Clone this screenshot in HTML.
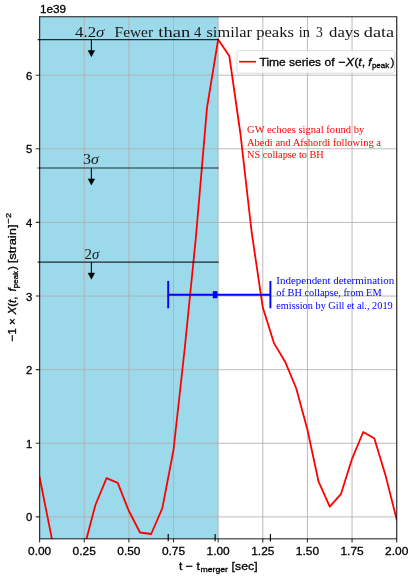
<!DOCTYPE html>
<html lang="en"><head><meta charset="utf-8"><title>GW echoes time series</title>
<style>
html,body{margin:0;padding:0;background:#fff;}
body{width:415px;height:579px;overflow:hidden;}
svg{display:block;will-change:transform;}
text{font-family:"Liberation Sans",sans-serif;font-size:11.7px;fill:#000;stroke:#000;stroke-width:0.3px;}
.sub{font-size:8px;}
.sig{font-family:"Liberation Serif",serif;font-size:14.6px;stroke:none;fill:#161616;}
.ann{font-family:"Liberation Serif",serif;font-size:11.2px;}
.red{fill:#ff0000;stroke:none;}.blue{fill:#0000ff;stroke:none;}
.serif{font-family:"Liberation Serif",serif;}
.it{font-style:italic;}
</style></head><body>
<svg role="img" aria-label="Time series of -X(t, f_peak) versus t - t_merger with sigma thresholds" width="415" height="579" viewBox="0 0 415 579">
<rect x="0" y="0" width="415" height="579" fill="#ffffff"/>
<defs><clipPath id="axclip"><rect x="39.6" y="16.7" width="357.10" height="522.10"/></clipPath></defs>
<rect x="39.6" y="16.7" width="178.55" height="522.10" fill="#9bd9eb"/>
<path d="M39.60,16.7V538.8M84.24,16.7V538.8M128.88,16.7V538.8M173.51,16.7V538.8M218.15,16.7V538.8M262.79,16.7V538.8M307.43,16.7V538.8M352.06,16.7V538.8M396.70,16.7V538.8M39.6,516.90H396.7M39.6,443.28H396.7M39.6,369.66H396.7M39.6,296.04H396.7M39.6,222.42H396.7M39.6,148.80H396.7M39.6,75.18H396.7" stroke="#b0b0b0" stroke-width="0.87" fill="none"/>
<path d="M91.38,39.6V50.80" stroke="#000" stroke-width="1.1" fill="none"/>
<path d="M88.13,50.60H94.63L91.38,56.70Z" fill="#000" stroke="#000" stroke-width="0.5" stroke-linejoin="miter"/>
<path d="M91.38,167.9V179.10" stroke="#000" stroke-width="1.1" fill="none"/>
<path d="M88.13,178.90H94.63L91.38,185.00Z" fill="#000" stroke="#000" stroke-width="0.5" stroke-linejoin="miter"/>
<path d="M91.38,262.1V273.30" stroke="#000" stroke-width="1.1" fill="none"/>
<path d="M88.13,273.10H94.63L91.38,279.20Z" fill="#000" stroke="#000" stroke-width="0.5" stroke-linejoin="miter"/>
<polyline points="39.60,477.30 50.76,533.10 61.92,589.00 73.08,600.00 84.24,547.40 95.40,505.00 106.56,478.10 117.72,482.90 128.88,511.00 140.03,532.50 151.19,534.00 162.35,508.20 173.51,450.00 184.67,349.00 195.83,238.00 206.99,107.90 218.15,39.50 229.31,56.00 240.47,134.00 251.63,232.00 262.79,307.60 273.95,343.10 285.11,361.70 296.27,388.50 307.43,429.80 318.58,481.70 329.74,506.60 340.90,494.20 352.06,458.80 363.22,432.00 374.38,438.60 385.54,475.40 396.70,519.60" fill="none" stroke="#ff0000" stroke-width="1.8" stroke-linejoin="round" stroke-linecap="square" clip-path="url(#axclip)"/>
<line x1="37.6" y1="39.6" x2="218.8" y2="39.6" stroke="#000" stroke-opacity="0.8" stroke-width="1.05"/>
<line x1="37.6" y1="167.9" x2="218.8" y2="167.9" stroke="#000" stroke-opacity="0.8" stroke-width="1.05"/>
<line x1="37.6" y1="262.1" x2="218.8" y2="262.1" stroke="#000" stroke-opacity="0.8" stroke-width="1.05"/>
<path d="M168.20,294.75H270.40" stroke="#0000ff" stroke-width="2.2" fill="none"/>
<path d="M168.20,281.05V308.35M270.40,281.05V308.35" stroke="#0000ff" stroke-width="1.9" fill="none"/>
<rect x="212.80" y="291.15" width="4.6" height="7.1" fill="#0000ff"/>
<line x1="168.21" y1="534" x2="168.21" y2="541.3" stroke="#000" stroke-width="1.15"/><line x1="215.11" y1="534" x2="215.11" y2="541.3" stroke="#000" stroke-width="1.15"/><line x1="270.43" y1="534" x2="270.43" y2="541.3" stroke="#000" stroke-width="1.15"/>
<rect x="39.6" y="16.7" width="357.10" height="522.10" fill="none" stroke="#000" stroke-opacity="0.72" stroke-width="1.25"/>
<path d="M39.60,538.8v3.8M84.24,538.8v3.8M128.88,538.8v3.8M173.51,538.8v3.8M218.15,538.8v3.8M262.79,538.8v3.8M307.43,538.8v3.8M352.06,538.8v3.8M396.70,538.8v3.8M39.6,516.90h-3.8M39.6,443.28h-3.8M39.6,369.66h-3.8M39.6,296.04h-3.8M39.6,222.42h-3.8M39.6,148.80h-3.8M39.6,75.18h-3.8" stroke="#000" stroke-opacity="0.8" stroke-width="1.1" fill="none"/>
<text x="39.60" y="554.5" text-anchor="middle" textLength="23.2" lengthAdjust="spacingAndGlyphs">0.00</text>
<text x="84.24" y="554.5" text-anchor="middle" textLength="23.2" lengthAdjust="spacingAndGlyphs">0.25</text>
<text x="128.88" y="554.5" text-anchor="middle" textLength="23.2" lengthAdjust="spacingAndGlyphs">0.50</text>
<text x="173.51" y="554.5" text-anchor="middle" textLength="23.2" lengthAdjust="spacingAndGlyphs">0.75</text>
<text x="218.15" y="554.5" text-anchor="middle" textLength="23.2" lengthAdjust="spacingAndGlyphs">1.00</text>
<text x="262.79" y="554.5" text-anchor="middle" textLength="23.2" lengthAdjust="spacingAndGlyphs">1.25</text>
<text x="307.43" y="554.5" text-anchor="middle" textLength="23.2" lengthAdjust="spacingAndGlyphs">1.50</text>
<text x="352.06" y="554.5" text-anchor="middle" textLength="23.2" lengthAdjust="spacingAndGlyphs">1.75</text>
<text x="396.70" y="554.5" text-anchor="middle" textLength="23.2" lengthAdjust="spacingAndGlyphs">2.00</text>
<text x="32.3" y="521.40" text-anchor="end" textLength="6.3" lengthAdjust="spacingAndGlyphs">0</text>
<text x="32.3" y="447.78" text-anchor="end" textLength="6.3" lengthAdjust="spacingAndGlyphs">1</text>
<text x="32.3" y="374.16" text-anchor="end" textLength="6.3" lengthAdjust="spacingAndGlyphs">2</text>
<text x="32.3" y="300.54" text-anchor="end" textLength="6.3" lengthAdjust="spacingAndGlyphs">3</text>
<text x="32.3" y="226.92" text-anchor="end" textLength="6.3" lengthAdjust="spacingAndGlyphs">4</text>
<text x="32.3" y="153.30" text-anchor="end" textLength="6.3" lengthAdjust="spacingAndGlyphs">5</text>
<text x="32.3" y="79.68" text-anchor="end" textLength="6.3" lengthAdjust="spacingAndGlyphs">6</text>
<text x="39.9" y="13.0" textLength="26.2" lengthAdjust="spacingAndGlyphs">1e39</text>
<text y="569.6"><tspan x="179.0" textLength="20.8" lengthAdjust="spacingAndGlyphs">t − t</tspan><tspan class="sub" x="200.4" dy="1.9" textLength="27.6" lengthAdjust="spacingAndGlyphs">merger</tspan><tspan x="231.6" dy="-1.9" textLength="26" lengthAdjust="spacingAndGlyphs">[sec]</tspan></text>
<text transform="translate(15.8,0) rotate(-90)" y="0"><tspan x="-341.6" textLength="23.6" lengthAdjust="spacingAndGlyphs">−1 ×</tspan><tspan x="-314.6" textLength="18.2" lengthAdjust="spacingAndGlyphs"><tspan class="it">X</tspan>(<tspan class="it">t</tspan>,</tspan><tspan class="it" x="-291.5">f</tspan><tspan class="sub" x="-288.2" dy="1.9" textLength="17.2" lengthAdjust="spacingAndGlyphs">peak</tspan><tspan x="-270.0" dy="-1.9">)</tspan><tspan x="-263.3" textLength="38.8" lengthAdjust="spacingAndGlyphs">[strain]</tspan><tspan class="sub" x="-223.4" dy="-4.4" textLength="10.4" lengthAdjust="spacingAndGlyphs">−2</tspan></text>
<text class="sig" y="36.9"><tspan x="75.0" textLength="29.4" lengthAdjust="spacingAndGlyphs">4.2<tspan class="it">σ</tspan></tspan> <tspan x="114.6" textLength="38.5" lengthAdjust="spacingAndGlyphs">Fewer</tspan> <tspan x="158.3" textLength="31.9" lengthAdjust="spacingAndGlyphs">than</tspan> <tspan x="194.1" textLength="7.3" lengthAdjust="spacingAndGlyphs">4</tspan> <tspan x="206.5" textLength="45.5" lengthAdjust="spacingAndGlyphs">similar</tspan> <tspan x="256.2" textLength="37.8" lengthAdjust="spacingAndGlyphs">peaks</tspan> <tspan x="298.8" textLength="11.2" lengthAdjust="spacingAndGlyphs">in</tspan> <tspan x="316.1" textLength="6.8" lengthAdjust="spacingAndGlyphs">3</tspan> <tspan x="329.1" textLength="30.6" lengthAdjust="spacingAndGlyphs">days</tspan> <tspan x="363.8" textLength="30.4" lengthAdjust="spacingAndGlyphs">data</tspan></text>
<text class="sig" x="83.1" y="164.2" textLength="15.9" lengthAdjust="spacingAndGlyphs">3<tspan class="it">σ</tspan></text>
<text class="sig" x="84.6" y="258.5" textLength="14.7" lengthAdjust="spacingAndGlyphs">2<tspan class="it">σ</tspan></text>
<rect x="236.9" y="50.6" width="157.8" height="22.6" rx="2.2" ry="2.2" fill="#fff" fill-opacity="0.8" stroke="#ccc" stroke-opacity="0.8" stroke-width="0.87"/>
<line x1="239.9" y1="61.7" x2="255.2" y2="61.7" stroke="#f00" stroke-width="1.63" stroke-linecap="square"/>
<text y="65.9"><tspan x="259.5" textLength="75" lengthAdjust="spacingAndGlyphs">Time series of</tspan><tspan x="338.6" textLength="26.6" lengthAdjust="spacingAndGlyphs">−<tspan class="it">X</tspan>(<tspan class="it">t</tspan>,</tspan><tspan class="it" x="368.2">f</tspan><tspan class="sub" x="371.9" dy="1.9" textLength="17.4" lengthAdjust="spacingAndGlyphs">peak</tspan><tspan x="390.4" dy="-1.9">)</tspan></text>
<text class="ann red" x="247" y="133.1" textLength="117.2" lengthAdjust="spacingAndGlyphs">GW echoes signal found by</text>
<text class="ann red" x="247" y="145.7" textLength="134.0" lengthAdjust="spacingAndGlyphs">Abedi and Afshordi following a</text>
<text class="ann red" x="247" y="158.3" textLength="76.8" lengthAdjust="spacingAndGlyphs">NS collapse to BH</text>
<text class="ann blue" x="276.3" y="283.9" textLength="117.9" lengthAdjust="spacingAndGlyphs">Independent determination</text>
<text class="ann blue" x="276.3" y="296.3" textLength="105.3" lengthAdjust="spacingAndGlyphs">of BH collapse, from EM</text>
<text class="ann blue" x="276.3" y="308.8" textLength="116.4" lengthAdjust="spacingAndGlyphs">emission by Gill et al., 2019</text>
</svg></body></html>
